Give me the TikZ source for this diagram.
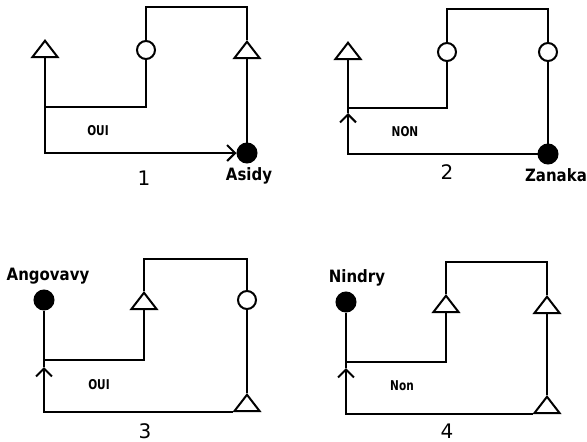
\documentclass[tikz,border=0pt]{standalone}
\usepackage{fontspec}
\setmainfont{DejaVu Sans}
\usetikzlibrary{shapes.geometric,arrows.meta}
\tikzset{
  tri/.style={draw,regular polygon,regular polygon sides=3,minimum size=29pt,inner sep=0pt,yscale=0.75},
  ring/.style={draw,circle,minimum size=18pt,inner sep=0pt},
  dot/.style={draw,circle,fill=black,minimum size=19pt,inner sep=0pt},
  place/.style={font=\bfseries\fontsize{17}{20}\selectfont,anchor=base,xscale=0.88},
  answer/.style={font=\bfseries\fontsize{13.5}{15}\selectfont,anchor=base,xscale=0.78},
  casenum/.style={font=\fontsize{20}{22}\selectfont,anchor=base},
  barb/.style={-{Straight Barb[length=8pt,width=16pt,line width=2pt]}},
}
\begin{document}
\begin{tikzpicture}[x=1pt,y=-1pt,line width=2pt]
    \useasboundingbox (0,0) rectangle (587,442);
    % case 1
    \node[tri] at (45,51.6) (t1) {};
    \node[ring] at (146,50) (c1) {};
    \node[tri] at (247,52.6) (t2) {};
    \node[dot] at (247,153) (d1) {};
    \node[place] at (249,180) (asidy) {Asidy};
    \node[answer] at (98,135) (oui1) {OUI};
    \node[casenum] at (144,185) (n1) {1};
    \coordinate (k1) at (45,107);
    \coordinate (h1) at (247,7);
    \draw (k1) -| (c1.south);
    \draw (c1.north) |- (h1) -- (t2.north);
    \draw (t2.south) -- (d1.north);
    \draw[barb] (t1.south) |- (d1.west);
    % case 2
    \node[tri] at (348,53.6) (t3) {};
    \node[ring] at (447,52) (c2) {};
    \node[ring] at (548,52) (c3) {};
    \node[dot] at (548,154) (d2) {};
    \node[place] at (556,181) (zanaka) {Zanaka};
    \node[answer] at (405,136) (non2) {NON};
    \node[casenum] at (447,179) (n2) {2};
    \coordinate (k2) at (348,108);
    \coordinate (h2) at (548,9);
    \coordinate (m2) at (348,113);
    \draw (k2) -| (c2.south);
    \draw (c2.north) |- (h2) -- (c3.north);
    \draw (c3.south) -- (d2.north);
    \draw[barb] (d2.west) -| (m2);
    \draw (m2) -- (t3.south);
    % case 3
    \node[dot] at (44,300) (d3) {};
    \node[tri] at (144,303.6) (t4) {};
    \node[ring] at (247,300) (c4) {};
    \node[tri] at (247,405.6) (t5) {};
    \node[place] at (48,280) (angovavy) {Angovavy};
    \node[answer] at (99,389) (oui3) {OUI};
    \node[casenum] at (145,438) (n3) {3};
    \coordinate (k3) at (44,360);
    \coordinate (h3) at (247,259);
    \coordinate (m3) at (44,367);
    \draw (k3) -| (t4.south);
    \draw (t4.north) |- (h3) -- (c4.north);
    \draw (c4.south) -- (t5.north);
    \draw[barb] (t5.corner 2) -| (m3);
    \draw (m3) -- (d3.south);
    % case 4
    \node[dot] at (346,302) (d4) {};
    \node[tri] at (446,306.6) (t6) {};
    \node[tri] at (547,307.6) (t7) {};
    \node[tri] at (547,407.6) (t8) {};
    \node[place] at (357,282) (nindry) {Nindry};
    \node[answer] at (402,390) (non4) {Non};
    \node[casenum] at (447,438) (n4) {4};
    \coordinate (k4) at (346,362);
    \coordinate (h4) at (547,262);
    \coordinate (m4) at (346,368);
    \draw (k4) -| (t6.south);
    \draw (t6.north) |- (h4) -- (t7.north);
    \draw (t7.south) -- (t8.north);
    \draw[barb] (t8.corner 2) -| (m4);
    \draw (m4) -- (d4.south);
\end{tikzpicture}
\end{document}
